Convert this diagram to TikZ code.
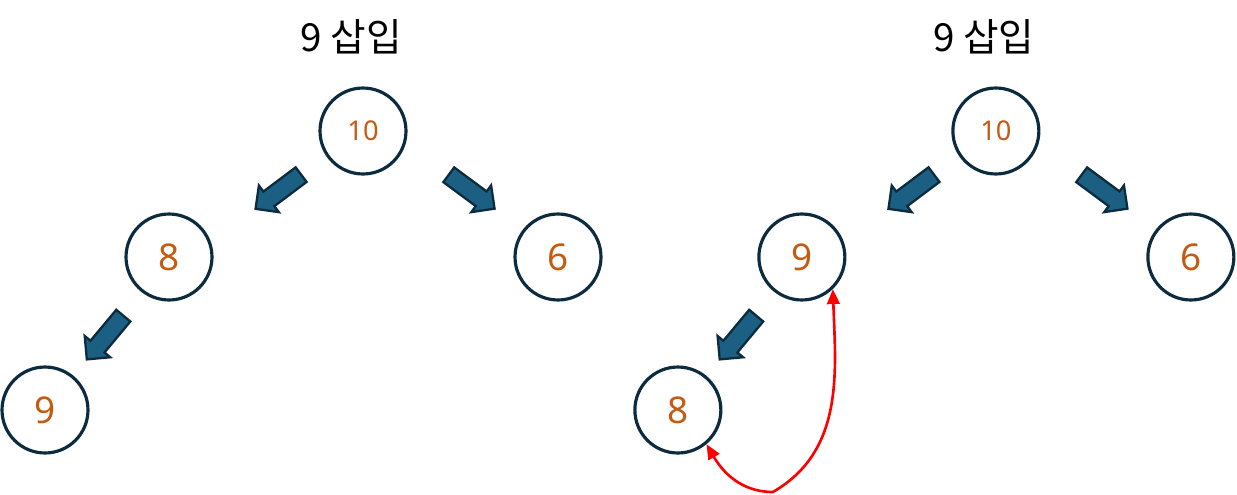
\documentclass[tikz,border=0pt]{standalone}
\usepackage{fontspec}
\setmainfont{Noto Sans}
\newfontfamily\kor{Noto Sans CJK KR}
\usetikzlibrary{shapes.arrows,arrows.meta}
\definecolor{rengas}{HTML}{0D2B3E}
\definecolor{luku}{HTML}{C55A11}
\definecolor{nuoli}{HTML}{1B5F82}
\tikzset{
  solmu/.style={draw=rengas, line width=1.8pt, circle, minimum size=1.72cm, inner sep=0pt, text=luku, font=\fontsize{21}{24}\selectfont},
  isku/.style={single arrow, draw=rengas, fill=nuoli, line width=1.3pt, minimum height=1.14cm, inner xsep=0pt, inner ysep=0.16cm, single arrow head extend=0.15cm},
  otsikko/.style={font=\kor\fontsize{22}{26}\selectfont}
}
\begin{document}
\begin{tikzpicture}[x=0.02cm,y=-0.02cm]
\useasboundingbox (0,0) rectangle (1237,494);
\newcommand\puu[2]{
\node[otsikko] (t) at (351,37) {9 삽입};
\node[solmu, font=\fontsize{15.5}{18}\selectfont] (a) at (363,131) {10};
\node[solmu] (b) at (169,257) {#1};
\node[solmu] (c) at (558,257) {6};
\node[solmu] (d) at (45,410) {#2};
\node[isku, rotate=216.9] (ab) at (282,189) {};
\node[isku, rotate=-36.5] (ac) at (468,189) {};
\node[isku, rotate=230.2] (bd) at (108,334) {};
}
\begin{scope}
\puu{8}{9}
\end{scope}
\begin{scope}[xshift=12.66cm]
\puu{9}{8}
\coordinate (pohja) at (140,492);
\draw[red, line width=1.5pt, {Triangle[length=3mm,width=2.5mm]}-{Triangle[length=3mm,width=2.5mm]}]
  (d.-50) to[out=-60,in=180] (pohja) to[out=30,in=-88] (b.-46);
\end{scope}
\end{tikzpicture}
\end{document}
